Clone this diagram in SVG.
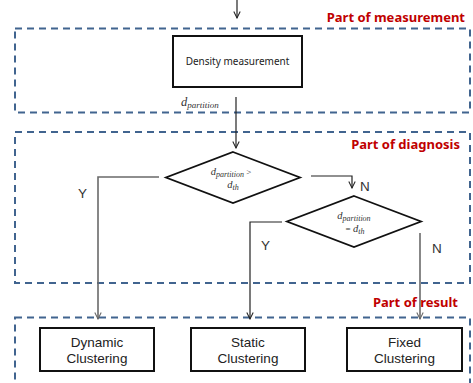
<svg xmlns="http://www.w3.org/2000/svg" width="473" height="383" viewBox="0 0 473 383">
  <defs>
    <marker id="arrK" viewBox="0 0 10 10" refX="9" refY="5" markerWidth="8" markerHeight="8" markerUnits="userSpaceOnUse" orient="auto">
      <path d="M1,1 L9,5 L1,9" fill="none" stroke="#222" stroke-width="1.3"/>
    </marker>
    <marker id="arrG" viewBox="0 0 10 10" refX="9" refY="5" markerWidth="8" markerHeight="8" markerUnits="userSpaceOnUse" orient="auto">
      <path d="M1,1 L9,5 L1,9" fill="none" stroke="#666" stroke-width="1.3"/>
    </marker>
  </defs>
  <style>
    .zone { fill: none; stroke: #41648f; stroke-width: 2; stroke-dasharray: 7 5; }
    .zlabel { font-family: "Noto Sans", "Liberation Sans", sans-serif; font-weight: bold; font-size: 13px; fill: #c00000; }
    .box { fill: #fff; stroke: #111; stroke-width: 2; }
    .dia { fill: #fff; stroke: #111; stroke-width: 1.8; }
    .lbl { font-family: "Liberation Sans", sans-serif; font-size: 13.5px; fill: #222; text-anchor: middle; }
    .small { font-family: "Noto Sans", "Liberation Sans", sans-serif; font-size: 10px; fill: #222; text-anchor: middle; }
    .yn { font-family: "Liberation Sans", sans-serif; font-size: 13.5px; fill: #333; }
    .math { font-family: "Liberation Serif", serif; font-style: italic; fill: #333; }
    .lk { fill: none; stroke: #222; stroke-width: 1.2; marker-end: url(#arrK); }
    .lg { fill: none; stroke: #6a6a6a; stroke-width: 1.6; marker-end: url(#arrG); }
  </style>

  <!-- zones -->
  <g id="zone-measurement">
    <rect class="zone" x="15" y="28.5" width="455" height="84"/>
    <text class="zlabel" x="465" y="22" text-anchor="end">Part of measurement</text>
  </g>
  <g id="zone-diagnosis">
    <rect class="zone" x="15" y="132" width="455" height="151"/>
    <text class="zlabel" x="460" y="149" text-anchor="end">Part of diagnosis</text>
  </g>
  <g id="zone-result">
    <rect class="zone" x="15" y="317.5" width="455" height="80"/>
    <text class="zlabel" x="458" y="307" text-anchor="end">Part of result</text>
  </g>

  <!-- connectors -->
  <g id="connectors">
    <path class="lk" d="M237,0 V18"/>
    <path class="lk" d="M236,97 V148"/>
    <path class="lk" d="M311,176 H352 V188"/>
    <path class="lg" d="M159,177 H98 V319"/>
    <path class="lk" d="M282,222 H250 V319"/>
    <path class="lg" d="M420,233 V319"/>
    <text class="math" x="181" y="106" font-size="12.5">d<tspan font-size="9" dy="2">partition</tspan></text>
    <text class="yn" x="360" y="191">N</text>
    <text class="yn" x="78" y="198">Y</text>
    <text class="yn" x="261" y="250">Y</text>
    <text class="yn" x="432" y="253">N</text>
  </g>

  <!-- nodes -->
  <g id="density">
    <rect class="box" x="173" y="36" width="129" height="51"/>
    <text class="small" x="237.5" y="65">Density measurement</text>
  </g>
  <g id="check-greater">
    <polygon class="dia" points="233,152 300,177.5 233,203 166,177.5"/>
    <text class="math" x="231" y="175" font-size="10.5" text-anchor="middle">d<tspan font-size="8" dy="1.5">partition</tspan><tspan font-style="normal" font-size="9" dy="-1.5"> &gt;</tspan></text>
    <text class="math" x="233" y="188" font-size="10.5" text-anchor="middle">d<tspan font-size="8" dy="1.5">th</tspan></text>
  </g>
  <g id="check-equal">
    <polygon class="dia" points="354,196 421,221.5 354,247 287,221.5"/>
    <text class="math" x="354" y="219" font-size="10.5" text-anchor="middle">d<tspan font-size="8" dy="1.5">partition</tspan></text>
    <text class="math" x="355" y="232" font-size="10.5" text-anchor="middle"><tspan font-style="normal" font-size="9">= </tspan>d<tspan font-size="8" dy="1.5">th</tspan></text>
  </g>
  <g id="dynamic">
    <rect class="box" x="40" y="328" width="114" height="43"/>
    <text class="lbl" x="97" y="347">Dynamic</text>
    <text class="lbl" x="97" y="363">Clustering</text>
  </g>
  <g id="static">
    <rect class="box" x="191" y="328" width="114" height="43"/>
    <text class="lbl" x="248" y="347">Static</text>
    <text class="lbl" x="248" y="363">Clustering</text>
  </g>
  <g id="fixed">
    <rect class="box" x="347" y="328" width="115" height="43"/>
    <text class="lbl" x="404.5" y="347">Fixed</text>
    <text class="lbl" x="404.5" y="363">Clustering</text>
  </g>
</svg>
